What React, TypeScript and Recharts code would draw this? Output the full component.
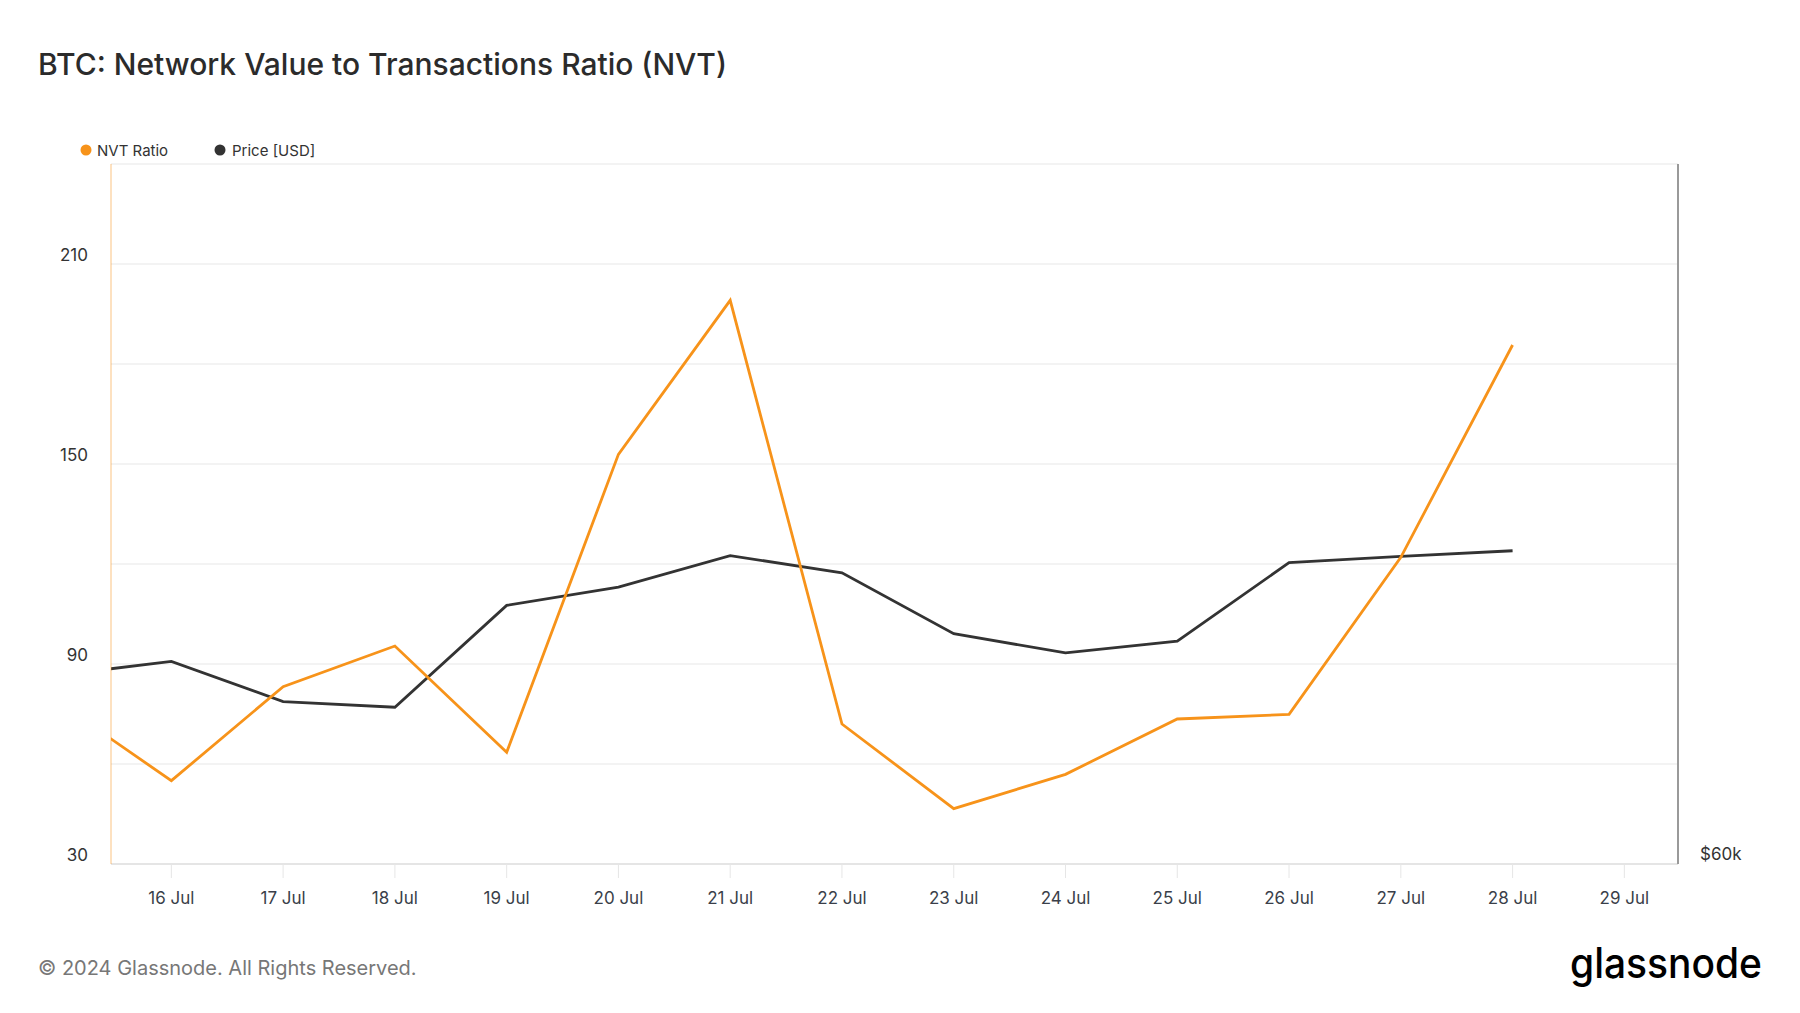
import { LineChart, Line, XAxis, YAxis, CartesianGrid } from 'recharts';

// day of July (15 Jul sits just left of the visible window)
const days = [15, 16, 17, 18, 19, 20, 21, 22, 23, 24, 25, 26, 27, 28];
const nvtRatio = [78.2, 55.0, 83.2, 95.4, 63.5, 152.9, 199.1, 72.0, 46.6, 56.9, 73.5, 74.9, 122.0, 185.7];
const priceUsd = [65400, 65790, 64640, 64480, 67390, 67910, 68810, 68320, 66580, 66030, 66370, 68610, 68790, 68950];

const xTicks = [16, 17, 18, 19, 20, 21, 22, 23, 24, 25, 26, 27, 28, 29];
const nvtGridTicks = [30, 60, 90, 120, 150, 180, 210, 240];
const nvtLabelTicks = [30, 90, 150, 210];
const priceTicks = [60000];

const ORANGE = '#f7931a';
const DARK = '#333333';
const FONT = 'Inter, "Noto Sans", sans-serif';

const data = days.map((day, i) => ({ day, nvt: nvtRatio[i], price: priceUsd[i] }));

function NvtTick({ x, y, payload }: any) {
    if (!nvtLabelTicks.includes(payload.value)) return null;
    return (
        <text x={x} y={y - 3} textAnchor="end" fontSize={17} fill="#333" fontFamily={FONT}>
            {payload.value}
        </text>
    );
}

function PriceTick({ x, y, payload }: any) {
    return (
        <text x={x} y={y - 4} textAnchor="start" fontSize={17} fill="#333" fontFamily={FONT}>
            ${payload.value / 1000}k
        </text>
    );
}

export default function App() {
    return (
        <div style={{ position: 'absolute', left: 0, top: 0, width: 1800, height: 1013, background: '#fff', fontFamily: FONT }}>
            <LineChart
                width={1800}
                height={1013}
                data={data}
                margin={{ top: 164, right: 42, bottom: 99, left: 51 }}
            >
                <CartesianGrid yAxisId="nvt" horizontal vertical={false} stroke="#efefef" strokeWidth={1.5} />
                <XAxis
                    dataKey="day"
                    type="number"
                    domain={[15.46, 29.48]}
                    allowDataOverflow
                    ticks={xTicks}
                    interval={0}
                    tickFormatter={(d: number) => `${d} Jul`}
                    height={50}
                    tickSize={14}
                    tickMargin={14}
                    axisLine={{ stroke: '#e0e0e0', strokeWidth: 1.5 }}
                    tickLine={{ stroke: '#e6e6e6' }}
                    tick={{ fill: '#3a3f4a', fontSize: 17, fontFamily: FONT }}
                />
                <YAxis
                    yAxisId="nvt"
                    domain={[30, 240]}
                    allowDataOverflow
                    ticks={nvtGridTicks}
                    interval={0}
                    width={60}
                    tickSize={0}
                    tickMargin={23}
                    tickLine={false}
                    axisLine={{ stroke: ORANGE, strokeOpacity: 0.55 }}
                    tick={<NvtTick />}
                />
                <YAxis
                    yAxisId="price"
                    orientation="right"
                    domain={[60000, 80000]}
                    allowDataOverflow
                    ticks={priceTicks}
                    width={80}
                    tickSize={0}
                    tickMargin={22}
                    tickLine={false}
                    axisLine={{ stroke: '#9a9a9a', strokeWidth: 2 }}
                    tick={<PriceTick />}
                />
                <Line
                    yAxisId="price"
                    type="linear"
                    dataKey="price"
                    stroke={DARK}
                    strokeWidth={2.8}
                    dot={false}
                    isAnimationActive={false}
                />
                <Line
                    yAxisId="nvt"
                    type="linear"
                    dataKey="nvt"
                    stroke={ORANGE}
                    strokeWidth={2.8}
                    dot={false}
                    isAnimationActive={false}
                />
            </LineChart>

            <svg width={1800} height={1013} style={{ position: 'absolute', left: 0, top: 0, pointerEvents: 'none' }}>
                <text x={38} y={75} fontSize={30} fontWeight={500} fill="#2b2b2b" fontFamily={FONT}>
                    BTC: Network Value to Transactions Ratio (NVT)
                </text>

                <circle cx={86} cy={150} r={5.5} fill={ORANGE} />
                <text x={97} y={155.5} fontSize={15} fill="#333" fontFamily={FONT}>NVT Ratio</text>
                <circle cx={220} cy={150} r={5.5} fill={DARK} />
                <text x={232} y={155.5} fontSize={15} fill="#333" fontFamily={FONT}>Price [USD]</text>

                <text x={38} y={975} fontSize={20} fill="#777" fontFamily={FONT}>
                    © 2024 Glassnode. All Rights Reserved.
                </text>
                <text
                    x={1570}
                    y={978}
                    fontSize={42}
                    fontWeight={500}
                    fill="#000"
                    fontFamily={FONT}
                    textLength={192}
                    lengthAdjust="spacingAndGlyphs"
                >
                    glassnode
                </text>
            </svg>
        </div>
    );
}
